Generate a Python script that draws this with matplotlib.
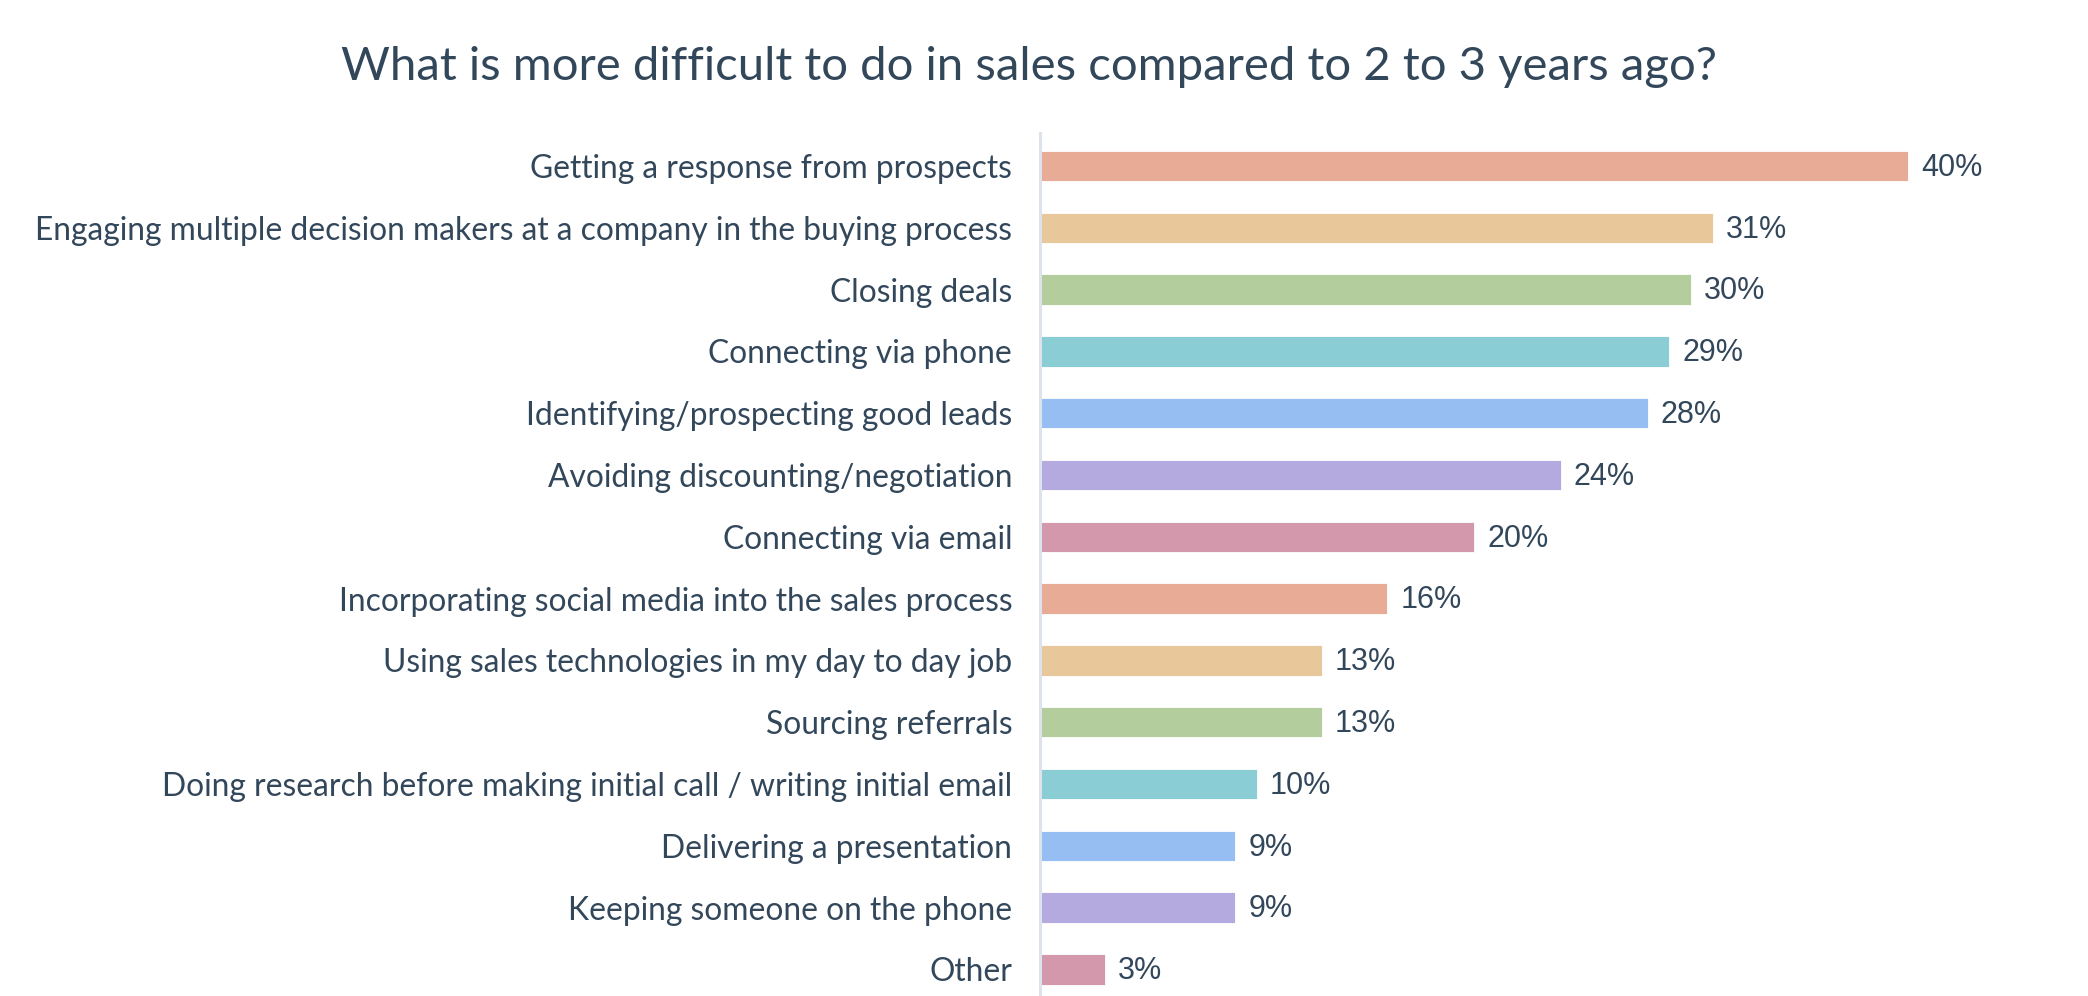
import matplotlib
matplotlib.use('Agg')
import matplotlib.pyplot as plt

categorias = [
    'Getting a response from prospects',
    'Engaging multiple decision makers at a company in the buying process',
    'Closing deals',
    'Connecting via phone',
    'Identifying/prospecting good leads',
    'Avoiding discounting/negotiation',
    'Connecting via email',
    'Incorporating social media into the sales process',
    'Using sales technologies in my day to day job',
    'Sourcing referrals',
    'Doing research before making initial call / writing initial email',
    'Delivering a presentation',
    'Keeping someone on the phone',
    'Other',
]
valores = [40, 31, 30, 29, 28, 24, 20, 16, 13, 13, 10, 9, 9, 3]
cores = ['#e8ab96', '#e8c89b', '#b4cd9c', '#8acdd4', '#97bef2', '#b5aae0', '#d498ad']

TEXTO = '#33475b'
W, H = 2088, 996

fig = plt.figure(figsize=(W / 100, H / 100), dpi=100)
fig.patch.set_facecolor('white')

xmax = 47
px_por_pct = 21.7
ax = fig.add_axes([1040 / W, 0, xmax * px_por_pct / W, 863 / H])

y = list(range(len(categorias)))
bar_cores = [cores[i % len(cores)] for i in y]
ax.barh(y, valores, height=0.49, color=bar_cores, edgecolor='white', linewidth=0.6)

ax.set_xlim(0, xmax)
ax.set_ylim(13.43, -0.534)

for i, v in enumerate(valores):
    ax.text(v + 0.6, i + 0.03, f'{v}%', va='center', ha='left', fontsize=22,
            color=TEXTO, family='Liberation Sans')

ax.set_yticks(y)
ax.set_yticklabels(categorias, fontsize=22.9, color=TEXTO, family='Lato')
ax.tick_params(axis='y', length=0, pad=20)
ax.set_xticks([])

for s in ['top', 'right', 'bottom']:
    ax.spines[s].set_visible(False)
ax.spines['left'].set_color('#dde3ec')
ax.spines['left'].set_linewidth(2.2)

fig.text(1029 / W, 1 - 67 / H, 'What is more difficult to do in sales compared to 2 to 3 years ago?',
         ha='center', va='center', fontsize=34, color=TEXTO, family='Lato')

fig.savefig('out.png', dpi=100)
